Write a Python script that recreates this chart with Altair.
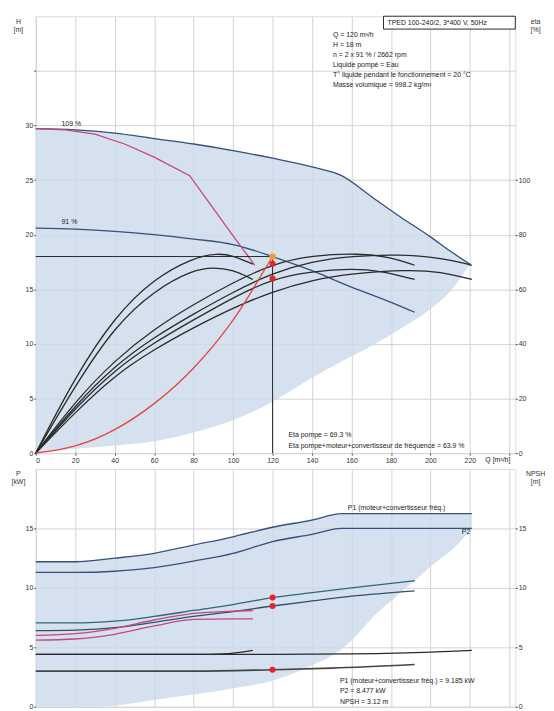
import altair as alt
import pandas as pd

FONT = "Liberation Sans"

# ---------------- data ----------------
# Top panel: H [m] vs Q [m3/h]
fill_top_q = [0, 20, 40, 60, 80, 100, 120, 140, 155, 170, 185, 200, 210, 220]
fill_top_hi = [29.7, 29.6, 29.3, 28.8, 28.3, 27.7, 27.0, 26.2, 25.4, 23.5, 21.6, 19.8, 18.5, 17.3]
fill_top_lo = [0, 0.4, 0.7, 1.1, 1.9, 3.0, 4.7, 6.9, 8.4, 9.8, 11.4, 13.2, 14.8, 17.3]

max_q = [0, 20, 40, 60, 80, 100, 120, 140, 155, 170, 185, 200, 210, 220]
max_h = [29.7, 29.6, 29.3, 28.8, 28.3, 27.7, 27.0, 26.2, 25.4, 23.5, 21.6, 19.8, 18.5, 17.3]

op_q = [0, 20, 40, 60, 80, 100, 120, 140, 160, 180, 192]
op_h = [20.6, 20.5, 20.3, 20.0, 19.6, 19.1, 18.0, 16.7, 15.2, 13.8, 12.9]

pink_q = [0, 15, 30, 45, 60, 78, 100, 111]
pink_h = [29.7, 29.6, 29.2, 28.3, 27.1, 25.4, 19.9, 17.2]

sys_q = [0, 20, 40, 60, 80, 100, 110, 120]
sys_h = [0, 0.5, 2.0, 4.4, 7.6, 12.0, 15.0, 18.0]

# efficiency curves [%] (right axis)
eA_q = [0, 20, 40, 60, 80, 92, 100, 110]
eA = [0, 28.0, 50.0, 64.0, 71.6, 73.2, 72.4, 69.2]
eB_q = [0, 20, 40, 60, 80, 90, 100, 110]
eB = [0, 24.8, 46.4, 59.6, 67.2, 68.0, 67.2, 63.6]
e3_q = [0, 20, 40, 60, 80, 100, 120, 140, 164, 180, 192]
e3 = [0, 19.0, 34.0, 45.5, 54.5, 62.5, 69.3, 72.4, 73.2, 71.8, 68.8]
e5_q = [0, 20, 40, 60, 80, 100, 120, 140, 160, 184, 205, 221]
e5 = [0, 17.5, 32.0, 42.5, 51.0, 59.0, 66.0, 70.2, 72.2, 72.8, 71.6, 68.8]
e4_q = [0, 20, 40, 60, 80, 100, 120, 140, 160, 175, 192]
e4 = [0, 16.5, 30.5, 40.5, 48.8, 57.0, 63.9, 66.6, 67.6, 66.8, 63.6]
e6_q = [0, 20, 40, 60, 80, 100, 120, 140, 160, 189, 205, 221]
e6 = [0, 15.0, 28.5, 38.0, 46.0, 53.2, 59.2, 63.4, 65.8, 67.2, 66.4, 63.6]

duty_q = 120
duty_h = 18
duty_eta = [69.3, 63.9]

# Bottom panel: P [kW] and NPSH [m]
fill_bot_q = [0, 30, 65, 98, 122, 140, 151, 160, 172, 182, 192, 200, 211, 221]
fill_bot_hi = [12.2, 12.35, 13.0, 14.2, 15.2, 15.8, 16.1, 16.25, 16.25, 16.25, 16.25, 16.25, 16.25, 16.25]
fill_bot_lo = [0, 0, 0.7, 1.5, 2.3, 3.5, 4.4, 5.6, 7.75, 9.2, 10.6, 11.8, 13.2, 15.0]

p1max_q = [0, 20, 40, 60, 80, 100, 120, 140, 155, 221]
p1max = [12.2, 12.2, 12.5, 12.9, 13.6, 14.3, 15.1, 15.7, 16.25, 16.25]
p2max = [11.3, 11.3, 11.4, 11.7, 12.25, 12.9, 13.9, 14.5, 15.0, 15.0]

pop_q = [0, 20, 40, 60, 80, 100, 120, 140, 160, 192]
p1op = [7.05, 7.05, 7.2, 7.6, 8.1, 8.6, 9.185, 9.6, 10.0, 10.6]
p2op = [6.4, 6.45, 6.65, 7.1, 7.6, 8.0, 8.477, 8.9, 9.3, 9.75]

pk_q = [0, 20, 40, 60, 80, 100, 110]
pk1 = [6.0, 6.15, 6.6, 7.3, 7.85, 8.05, 8.1]
pk2 = [5.6, 5.7, 6.1, 6.8, 7.35, 7.4, 7.4]

npsh1_q = [0, 40, 80, 95, 110]
npsh1 = [4.4, 4.4, 4.4, 4.45, 4.75]
npsh2_q = [0, 60, 120, 160, 200, 221]
npsh2 = [4.4, 4.4, 4.4, 4.45, 4.6, 4.75]
npshop_q = [0, 40, 80, 120, 150, 192]
npshop = [3.0, 3.0, 3.0, 3.12, 3.25, 3.55]

duty_p = [9.185, 8.477]
duty_npsh = 3.12

# ---------------- styling ----------------
W = 484
H_TOP = 441
H_BOT = 240
X_DOM = [0, 243]
BLUE = "#34507c"
BLK = "#2a2a2a"
PINK = "#c8457e"
RED = "#e6443f"
TEAL = "#2f6679"
FILL = "#cbd9ea"
GRID = "#d2d2d2"
TXT = "#222222"

XAX_TOP = alt.Axis(values=list(range(0, 241, 20)),
                   labelExpr="datum.value == 240 ? '' : datum.label",
                   grid=True, gridColor=GRID, tickSize=2, tickColor="#444",
                   labelFontSize=7, labelFont=FONT, labelColor="#333", labelPadding=1,
                   domain=False, title=None)
XAX_BOT = alt.Axis(values=list(range(0, 241, 20)), labels=False, ticks=False,
                   grid=True, gridColor=GRID, domain=False, title=None)


def yaxis(values, title, orient="left", grid=False, expr=None, tx=-18):
    kw = dict(values=values, orient=orient, grid=grid, gridColor=GRID, tickSize=2,
              tickColor="#444", labelFontSize=7, labelFont=FONT, labelColor="#333",
              labelPadding=1, domain=False, title=title, titleAngle=0, titleX=tx,
              titleY=1, titleBaseline="top", titleAlign="center", titleFontSize=7,
              titleFont=FONT, titleFontWeight="normal", titleColor="#333",
              titleLineHeight=8)
    if expr:
        kw["labelExpr"] = expr
    return alt.Axis(**kw)


def curve(qs, vs, color, dom, xax, axis=None, width=1.3, interp="monotone"):
    df = pd.DataFrame({"q": qs, "v": vs})
    return alt.Chart(df).mark_line(color=color, strokeWidth=width, interpolate=interp).encode(
        x=alt.X("q:Q", scale=alt.Scale(domain=X_DOM, nice=False), axis=xax),
        y=alt.Y("v:Q", scale=alt.Scale(domain=dom, nice=False), axis=axis))


def band(qs, hi, lo, dom, xax, axis=None):
    df = pd.DataFrame({"q": qs, "hi": hi, "lo": lo})
    return alt.Chart(df).mark_area(color=FILL, opacity=0.8, interpolate="monotone").encode(
        x=alt.X("q:Q", scale=alt.Scale(domain=X_DOM, nice=False), axis=xax),
        y=alt.Y("hi:Q", scale=alt.Scale(domain=dom, nice=False), axis=axis),
        y2="lo:Q")


def dots(qs, vs, color, dom, xax, size=38):
    df = pd.DataFrame({"q": qs, "v": vs})
    return alt.Chart(df).mark_point(filled=True, color=color, size=size, opacity=1).encode(
        x=alt.X("q:Q", scale=alt.Scale(domain=X_DOM, nice=False), axis=xax),
        y=alt.Y("v:Q", scale=alt.Scale(domain=dom, nice=False), axis=None))


def txt(s, x, y, align="left", size=7):
    return alt.Chart(pd.DataFrame({"t": [s]})).mark_text(
        align=align, baseline="middle", fontSize=size, font=FONT, color=TXT).encode(
        x=alt.value(x), y=alt.value(y), text="t:N")


HD = [0, 40]
ED = [0, 160]
PD = [0, 20]

# ---------------- top panel ----------------
left_top = yaxis(list(range(0, 36, 5)), ["H", "[m]"], grid=True,
                 expr="datum.value <= 30 ? datum.label : ''")
right_top = yaxis(list(range(0, 101, 20)), ["eta", "[%]"], orient="right", tx=20)

rule_df = pd.DataFrame({"q0": [0], "q1": [duty_q], "h0": [0], "h": [duty_h]})
hrule = alt.Chart(rule_df).mark_rule(color=BLK, strokeWidth=1).encode(
    x=alt.X("q0:Q", scale=alt.Scale(domain=X_DOM, nice=False), axis=XAX_TOP), x2="q1:Q",
    y=alt.Y("h:Q", scale=alt.Scale(domain=HD, nice=False), axis=None))
vrule = alt.Chart(rule_df).mark_rule(color=BLK, strokeWidth=1).encode(
    x=alt.X("q1:Q", scale=alt.Scale(domain=X_DOM, nice=False), axis=XAX_TOP),
    y=alt.Y("h0:Q", scale=alt.Scale(domain=HD, nice=False), axis=None), y2="h:Q")

box = alt.Chart(pd.DataFrame({"t": [0]})).mark_rect(fill="white", stroke=BLK, strokeWidth=1).encode(
    x=alt.value(351), x2=alt.value(484), y=alt.value(0), y2=alt.value(13))

info = ["Q = 120 m³/h", "H = 18 m", "n = 2 x 91 % / 2662 rpm", "Liquide pompé = Eau",
        "T° liquide pendant le fonctionnement = 20 °C", "Masse volumique = 998.2 kg/m³"]

top_layers = [
    band(fill_top_q, fill_top_hi, fill_top_lo, HD, XAX_TOP, axis=left_top),
    curve(max_q, max_h, BLUE, HD, XAX_TOP),
    curve(op_q, op_h, BLUE, HD, XAX_TOP),
    curve(pink_q, pink_h, PINK, HD, XAX_TOP, interp="linear"),
    curve(eA_q, eA, BLK, ED, XAX_TOP, axis=right_top, interp="basis"),
    curve(eB_q, eB, BLK, ED, XAX_TOP, interp="basis"),
    curve(e3_q, e3, BLK, ED, XAX_TOP, interp="basis"),
    curve(e5_q, e5, BLK, ED, XAX_TOP, interp="basis"),
    curve(e4_q, e4, BLK, ED, XAX_TOP, interp="basis"),
    curve(e6_q, e6, BLK, ED, XAX_TOP, interp="basis"),
    curve(sys_q, sys_h, RED, HD, XAX_TOP, interp="basis"),
    hrule, vrule,
    dots([duty_q], [duty_h], "#f0a033", HD, XAX_TOP, size=45),
    dots([duty_q, duty_q], duty_eta, "#e3262d", ED, XAX_TOP),
    box,
    txt("TPED 100-240/2, 3*400 V, 50Hz", 355, 6.5),
    txt("109 %", 26, 109), txt("91 %", 26, 208),
    txt("Eta pompe = 69.3 %", 255, 423),
    txt("Eta pompe+moteur+convertisseur de fréquence = 63.9 %", 255, 434),
    txt("Q [m³/h]", 479, 448, align="right"),
] + [txt(s, 300, 19 + 10 * i) for i, s in enumerate(info)]

top = alt.layer(*top_layers).resolve_scale(y="independent").properties(width=W, height=H_TOP)

# ---------------- bottom panel ----------------
left_bot = yaxis([0, 5, 10, 15], ["P", "[kW]"], grid=True)
right_bot = yaxis([0, 5, 10, 15], ["NPSH", "[m]"], orient="right", tx=20)

bot_layers = [
    band(fill_bot_q, fill_bot_hi, fill_bot_lo, PD, XAX_BOT, axis=left_bot),
    curve(p1max_q, p1max, BLUE, PD, XAX_BOT),
    curve(p1max_q, p2max, BLUE, PD, XAX_BOT),
    curve(pop_q, p1op, TEAL, PD, XAX_BOT),
    curve(pop_q, p2op, "#2f4f6f", PD, XAX_BOT),
    curve(pk_q, pk1, PINK, PD, XAX_BOT),
    curve(pk_q, pk2, PINK, PD, XAX_BOT),
    curve(npsh1_q, npsh1, BLK, PD, XAX_BOT, axis=right_bot),
    curve(npsh2_q, npsh2, BLK, PD, XAX_BOT),
    curve(npshop_q, npshop, "#444444", PD, XAX_BOT, width=1.6),
    dots([duty_q, duty_q], duty_p, "#e3262d", PD, XAX_BOT),
    dots([duty_q], [duty_npsh], "#e3262d", PD, XAX_BOT),
    txt("P1 (moteur+convertisseur fréq.)", 315, 39),
    txt("P2", 430, 64),
    txt("P1 (moteur+convertisseur fréq.) = 9.185 kW", 307, 214),
    txt("P2 = 8.477 kW", 307, 224),
    txt("NPSH = 3.12 m", 307, 235),
]

bottom = alt.layer(*bot_layers).resolve_scale(y="independent").properties(width=W, height=H_BOT)

chart = alt.vconcat(top, bottom, spacing=16, bounds="flush").properties(
    padding={"left": 2, "top": 4, "right": 0, "bottom": 0}
).configure_view(stroke="#333333", strokeWidth=1.2).configure(background="white")

chart.save("out.html", embed_options={"renderer": "svg", "actions": False})
